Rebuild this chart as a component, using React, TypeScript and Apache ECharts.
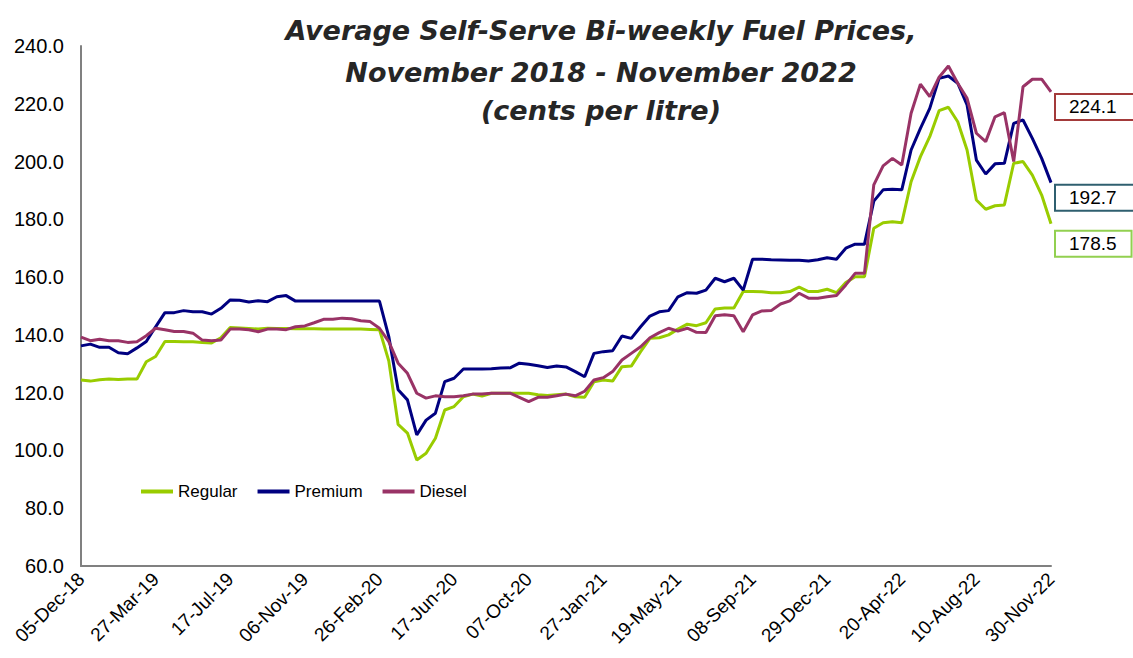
import React, { useEffect, useRef } from "react";
import * as echarts from "echarts";

const dates: string[] = [
  "05-Dec-18", "19-Dec-18",
  "02-Jan-19", "16-Jan-19", "30-Jan-19", "13-Feb-19", "27-Feb-19", "13-Mar-19", "27-Mar-19", "10-Apr-19", "24-Apr-19",
  "08-May-19", "22-May-19", "05-Jun-19", "19-Jun-19", "03-Jul-19", "17-Jul-19", "31-Jul-19", "14-Aug-19", "28-Aug-19",
  "11-Sep-19", "25-Sep-19", "09-Oct-19", "23-Oct-19", "06-Nov-19", "20-Nov-19", "04-Dec-19", "18-Dec-19",
  "01-Jan-20", "15-Jan-20", "29-Jan-20", "12-Feb-20", "26-Feb-20", "11-Mar-20", "25-Mar-20", "08-Apr-20", "22-Apr-20",
  "06-May-20", "20-May-20", "03-Jun-20", "17-Jun-20", "01-Jul-20", "15-Jul-20", "29-Jul-20", "12-Aug-20", "26-Aug-20",
  "09-Sep-20", "23-Sep-20", "07-Oct-20", "21-Oct-20", "04-Nov-20", "18-Nov-20", "02-Dec-20", "16-Dec-20", "30-Dec-20",
  "13-Jan-21", "27-Jan-21", "10-Feb-21", "24-Feb-21", "10-Mar-21", "24-Mar-21", "07-Apr-21", "21-Apr-21", "05-May-21",
  "19-May-21", "02-Jun-21", "16-Jun-21", "30-Jun-21", "14-Jul-21", "28-Jul-21", "11-Aug-21", "25-Aug-21", "08-Sep-21",
  "22-Sep-21", "06-Oct-21", "20-Oct-21", "03-Nov-21", "17-Nov-21", "01-Dec-21", "15-Dec-21", "29-Dec-21",
  "12-Jan-22", "26-Jan-22", "09-Feb-22", "23-Feb-22", "09-Mar-22", "23-Mar-22", "06-Apr-22", "20-Apr-22", "04-May-22",
  "18-May-22", "01-Jun-22", "15-Jun-22", "29-Jun-22", "13-Jul-22", "27-Jul-22", "10-Aug-22", "24-Aug-22", "07-Sep-22",
  "21-Sep-22", "05-Oct-22", "19-Oct-22", "02-Nov-22", "16-Nov-22", "30-Nov-22",
];

const regular: number[] = [
  124.4, 124.0, 124.5, 124.7, 124.6, 124.7, 124.7, 130.7, 132.5, 137.7,
  137.7, 137.6, 137.6, 137.4, 137.2, 139.0, 142.6, 142.4, 142.2, 142.0,
  142.3, 142.2, 142.2, 142.1, 142.1, 142.1, 142.0, 142.0, 142.0, 142.0,
  142.0, 141.9, 141.8, 131.0, 109.0, 106.0, 96.7, 99.0, 104.2, 114.0,
  115.2, 118.6, 119.5, 118.8, 119.8, 119.8, 119.8, 119.8, 119.8, 119.3,
  119.0, 119.3, 119.5, 118.6, 118.4, 123.8, 124.4, 124.0, 129.0, 129.2,
  134.2, 138.8, 139.0, 140.0, 142.0, 143.7, 143.2, 144.2, 149.0, 149.3,
  149.3, 155.0, 155.0, 154.9, 154.6, 154.6, 155.0, 156.5, 155.0, 155.0,
  155.8, 154.6, 158.1, 160.1, 160.1, 176.9, 178.8, 179.2, 178.8, 193.0,
  201.7, 208.6, 217.6, 218.8, 213.8, 204.0, 186.7, 183.5, 184.7, 185.0,
  199.4, 200.0, 195.3, 188.4, 178.5,
];

const premium: number[] = [
  136.2, 136.8, 135.7, 135.7, 133.8, 133.5, 135.5, 137.7, 142.8, 147.7,
  147.7, 148.4, 148.0, 148.0, 147.2, 149.2, 152.1, 152.0, 151.4, 151.8,
  151.5, 153.2, 153.6, 151.7, 151.7, 151.7, 151.7, 151.7, 151.7, 151.7,
  151.7, 151.7, 151.7, 139.4, 121.0, 117.5, 105.4, 110.5, 112.9, 123.8,
  125.0, 128.2, 128.2, 128.2, 128.3, 128.5, 128.6, 130.2, 129.8, 129.3,
  128.7, 129.2, 128.9, 127.3, 125.5, 133.6, 134.2, 134.5, 139.6, 138.8,
  142.8, 146.5, 148.0, 148.4, 153.2, 154.6, 154.4, 155.5, 159.6, 158.4,
  159.6, 155.5, 166.2, 166.2, 166.0, 165.9, 165.8, 165.8, 165.6, 166.0,
  166.7, 166.2, 170.0, 171.4, 171.4, 186.3, 190.2, 190.4, 190.2, 204.0,
  211.5, 218.4, 228.8, 229.6, 227.1, 219.6, 200.5, 195.7, 199.2, 199.4,
  213.2, 214.4, 208.0, 201.1, 192.7,
];

const diesel: number[] = [
  139.2, 138.0, 138.5, 138.0, 138.0, 137.4, 137.6, 139.7, 142.3, 141.8,
  141.2, 141.2, 140.6, 138.2, 138.0, 138.2, 142.0, 142.0, 141.8, 141.1,
  142.0, 142.0, 141.8, 142.8, 143.1, 144.2, 145.4, 145.4, 145.8, 145.6,
  144.9, 144.6, 142.3, 137.7, 130.2, 126.7, 119.8, 118.1, 118.9, 118.6,
  118.6, 118.9, 119.5, 119.5, 119.8, 119.8, 119.8, 118.4, 116.9, 118.4,
  118.4, 118.9, 119.5, 118.9, 120.5, 124.4, 125.2, 127.3, 131.3, 133.6,
  135.9, 139.0, 140.8, 142.3, 141.3, 142.3, 140.9, 140.8, 146.6, 147.0,
  146.6, 141.1, 146.9, 148.3, 148.4, 150.7, 151.8, 154.4, 152.7, 152.7,
  153.2, 153.6, 157.3, 161.3, 161.3, 191.9, 198.5, 201.1, 198.8, 216.7,
  226.8, 222.5, 229.2, 233.1, 227.1, 221.9, 209.8, 206.9, 215.5, 216.9,
  200.0, 225.9, 228.5, 228.5, 224.1,
];

const seriesNames = ["Regular", "Premium", "Diesel"];
const seriesColors = ["#99cc00", "#000080", "#993366"];
const labelBorders = ["#92d050", "#2f5f6f", "#a33a3a"];
const labelOffsets = [20, 15, 15];
const labelPaddings = [
  [3, 14, 2, 13],
  [3, 24, 2, 13],
  [3, 24, 2, 13],
];

const titleLines = [
  "Average Self-Serve Bi-weekly Fuel Prices,",
  "November 2018 - November 2022",
  "(cents per litre)",
];

export default function App() {
  const ref = useRef<HTMLDivElement>(null);
  useEffect(() => {
    if (!ref.current) return;
    const chart = echarts.init(ref.current, null, { renderer: "svg" });
    const data = [regular, premium, diesel];
    const titleTops = [12, 54, 92];
    chart.setOption({
      animation: false,
      backgroundColor: "#ffffff",
      title: titleLines.map((t, i) => ({
        text: t,
        left: 596,
        top: titleTops[i],
        textAlign: "center",
        textStyle: {
          fontFamily: "DejaVu Sans",
          fontStyle: "italic",
          fontWeight: "bold",
          fontSize: 27,
          color: "#262626",
        },
      })),
      legend: {
        left: 136,
        top: 478,
        itemWidth: 32,
        itemHeight: 4,
        itemGap: 20,
        icon: "rect",
        textStyle: { fontFamily: "Liberation Sans", fontSize: 17, color: "#000" },
        data: seriesNames,
      },
      grid: { left: 81, right: 82, top: 46, bottom: 92 },
      xAxis: {
        type: "category",
        boundaryGap: false,
        data: dates,
        axisLine: { lineStyle: { color: "#808080", width: 2 } },
        axisTick: { show: false },
        axisLabel: {
          interval: 7,
          rotate: 45,
          margin: 10,
          fontFamily: "Liberation Sans",
          fontSize: 19,
          color: "#000",
        },
      },
      yAxis: {
        type: "value",
        min: 60,
        max: 240,
        interval: 20,
        axisLine: { show: true, lineStyle: { color: "#808080", width: 2 } },
        axisTick: { show: false },
        splitLine: { show: false },
        axisLabel: {
          margin: 17,
          fontFamily: "Liberation Sans",
          fontSize: 20,
          color: "#000",
          formatter: (v: number) => v.toFixed(1),
        },
      },
      series: seriesNames.map((name, i) => ({
        name,
        type: "line",
        data: data[i],
        symbol: "none",
        lineStyle: { color: seriesColors[i], width: 3 },
        itemStyle: { color: seriesColors[i] },
        endLabel: {
          show: true,
          formatter: (p: any) => Number(p.value).toFixed(1),
          distance: 5,
          offset: [0, labelOffsets[i]],
          fontFamily: "Liberation Sans",
          fontSize: 19,
          color: "#000",
          backgroundColor: "#ffffff",
          borderColor: labelBorders[i],
          borderWidth: 2,
          padding: labelPaddings[i],
        },
      })),
    });
    return () => chart.dispose();
  }, []);
  return (
    <div
      ref={ref}
      style={{ position: "fixed", left: 0, top: 0, width: 1133, height: 658 }}
    />
  );
}
